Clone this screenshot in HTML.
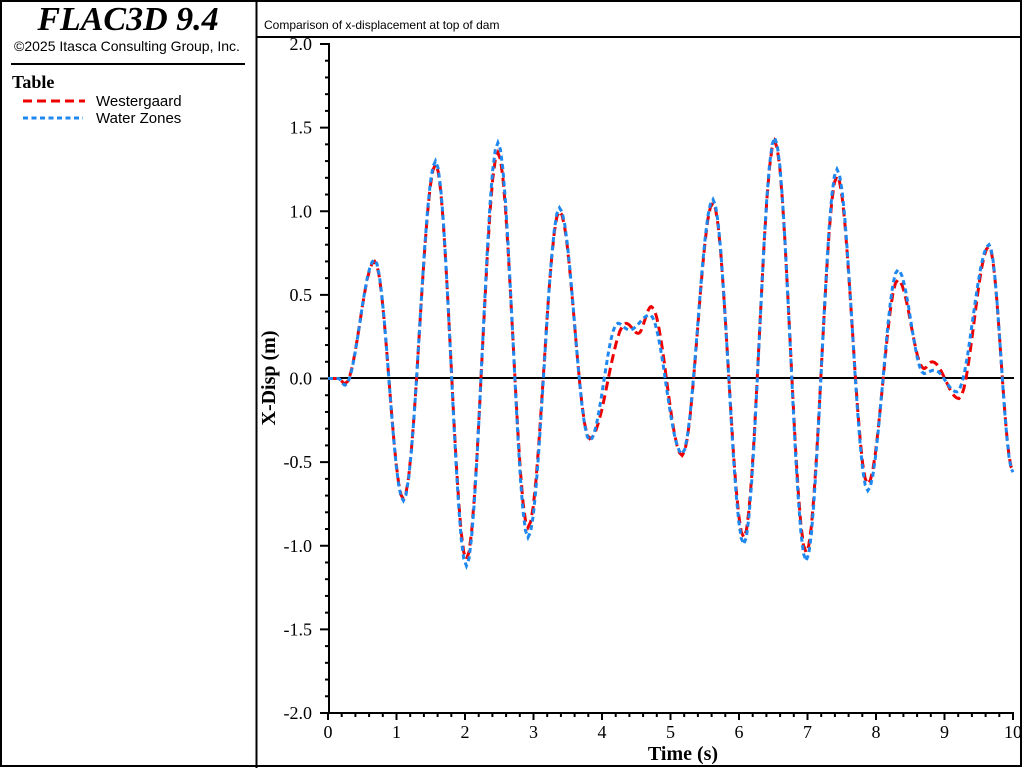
<!DOCTYPE html>
<html><head><meta charset="utf-8"><style>
html,body{margin:0;padding:0;background:#fff;}
svg{display:block;font-family:"Liberation Serif",serif;}
</style></head><body>
<svg id="s" width="1024" height="768" viewBox="0 0 1024 768" xmlns="http://www.w3.org/2000/svg">
<rect x="0" y="0" width="1024" height="768" fill="#fff"/>
<rect x="1" y="1" width="1020" height="765" fill="none" stroke="#000" stroke-width="2"/>
<line x1="256.5" y1="0" x2="256.5" y2="768" stroke="#000" stroke-width="2"/>
<line x1="256" y1="37" x2="1022" y2="37" stroke="#000" stroke-width="2"/>
<text x="128" y="30" text-anchor="middle" font-size="34" font-style="italic" font-weight="bold">FLAC3D 9.4</text>
<text x="127" y="51" text-anchor="middle" font-size="14" font-family="Liberation Sans, sans-serif">©2025 Itasca Consulting Group, Inc.</text>
<line x1="11" y1="64" x2="245" y2="64" stroke="#000" stroke-width="2"/>
<text x="12" y="88" font-size="18" font-weight="bold">Table</text>
<line x1="23" y1="101" x2="85" y2="101" stroke="#e00" stroke-width="3" stroke-dasharray="9,5"/>
<line x1="23" y1="118" x2="83" y2="118" stroke="#1e88f0" stroke-width="3" stroke-dasharray="5,3.5"/>
<text x="96" y="106" font-size="15" font-family="Liberation Sans, sans-serif">Westergaard</text>
<text x="96" y="123" font-size="15" font-family="Liberation Sans, sans-serif">Water Zones</text>
<text x="264" y="29" font-size="12" font-family="Liberation Sans, sans-serif">Comparison of x-displacement at top of dam</text>
<g id="axes" stroke="#000" stroke-width="2"></g>
<line x1="328" y1="378" x2="1014" y2="378" stroke="#000" stroke-width="2"/>
<g id="lbl" font-size="18"></g>
<text x="683" y="760" text-anchor="middle" font-size="20" font-weight="bold">Time (s)</text>
<text transform="translate(275,378) rotate(-90)" text-anchor="middle" font-size="20" font-weight="bold">X-Disp (m)</text>
<path id="red" fill="none" stroke="#e00" stroke-width="3" stroke-dasharray="9,5"/>
<path id="blue" fill="none" stroke="#1e88f0" stroke-width="3" stroke-dasharray="5,3.5"/>
</svg>
<script>
var NS="http://www.w3.org/2000/svg";
function X(t){return 328+t*68.5;} function Y(v){return 378.5-v*167.25;}
var ax=document.getElementById('axes'),lb=document.getElementById('lbl');
function L(x1,y1,x2,y2,w){var l=document.createElementNS(NS,'line');l.setAttribute('x1',x1);l.setAttribute('y1',y1);l.setAttribute('x2',x2);l.setAttribute('y2',y2);if(w)l.setAttribute('stroke-width',w);ax.appendChild(l);}
function T(x,y,s,a){var t=document.createElementNS(NS,'text');t.setAttribute('x',x);t.setAttribute('y',y);t.setAttribute('text-anchor',a);t.textContent=s;lb.appendChild(t);}
L(329,43,329,714);L(328,713,1014,713);
for(var i=0;i<=40;i++){var y=Y(2-i*0.1);var maj=i%5==0;L(maj?320:325,y,329,y,2);
 if(maj){var v=(2-i*0.1);T(312,y+6,v.toFixed(1).replace('-0.0','0.0'),'end');}}
for(var i=0;i<=50;i++){var x=X(i*0.2);var maj=i%5==0;L(x,713,x,maj?720:717,2);
 if(maj)T(x,738,String(i/5),'middle');}
function path(k){var d='M'+X(k[0][0]).toFixed(1)+','+Y(k[0][1]).toFixed(1);
 for(var i=0;i<k.length-1;i++){var a=k[i],b=k[i+1];for(var j=1;j<=12;j++){var f=j/12;var t=a[0]+(b[0]-a[0])*f;var v=a[1]+(b[1]-a[1])*(1-Math.cos(Math.PI*f))/2;d+=' L'+X(t).toFixed(1)+','+Y(v).toFixed(1);}}
 return d;}
var R=[[0,0],[0.15,0],[0.25,-0.03],[0.68,0.70],[1.1,-0.72],[1.57,1.28],[2.02,-1.08],[2.48,1.35],[2.92,-0.89],[3.38,1.00],[3.82,-0.36],[4.35,0.33],[4.53,0.27],[4.72,0.43],[5.17,-0.46],[5.62,1.05],[6.07,-0.95],[6.52,1.42],[6.98,-1.04],[7.43,1.21],[7.88,-0.63],[8.32,0.59],[8.7,0.06],[8.82,0.10],[9.21,-0.12],[9.65,0.79],[10,-0.55]];
var B=[[0,0],[0.15,0],[0.25,-0.04],[0.68,0.71],[1.1,-0.73],[1.57,1.30],[2.02,-1.12],[2.48,1.41],[2.92,-0.95],[3.38,1.02],[3.82,-0.37],[4.23,0.33],[4.4,0.29],[4.7,0.38],[5.17,-0.45],[5.62,1.07],[6.07,-0.99],[6.52,1.44],[6.98,-1.09],[7.43,1.25],[7.88,-0.67],[8.32,0.65],[8.7,0.03],[8.85,0.05],[9.18,-0.08],[9.65,0.80],[10,-0.56]];
document.getElementById('red').setAttribute('d',path(R));
document.getElementById('blue').setAttribute('d',path(B));
</script>
</body></html>
